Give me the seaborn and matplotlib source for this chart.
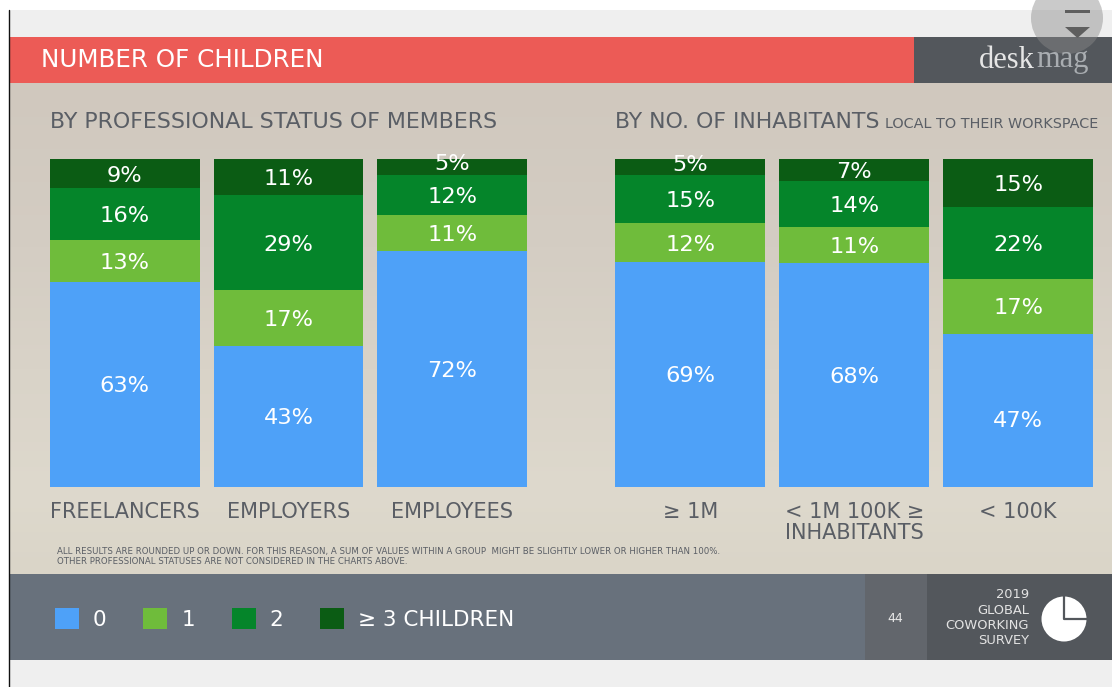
import numpy as np
import pandas as pd
import matplotlib.pyplot as plt
from matplotlib.patches import Rectangle, Circle, Polygon, Patch
import seaborn as sns

# values as printed on the slide
status_groups = ['FREELANCERS', 'EMPLOYERS', 'EMPLOYEES']
status_0 = [63, 43, 72]
status_1 = [13, 17, 11]
status_2 = [16, 29, 12]
status_3 = [9, 11, 5]

town_groups = ['≥ 1M', '< 1M 100K ≥\nINHABITANTS', '< 100K']
town_0 = [69, 68, 47]
town_1 = [12, 11, 17]
town_2 = [15, 14, 22]
town_3 = [5, 7, 15]

series_names = ['0', '1', '2', '≥ 3 CHILDREN']
series_colors = ['#4ea1f8', '#6fbc3b', '#05852a', '#0b5c14']

# label tweaks in pixels (up is positive), the slide doesn't center everything
status_nudge = {(2, 3): 5}
town_nudge = {(0, 3): 4, (2, 0): -9}

sns.set_theme(style='white')
plt.rcParams['font.family'] = ['DejaVu Sans']
TEXT = '#5a5e65'

W, H = 1112, 687
fig = plt.figure(figsize=(W / 100, H / 100), dpi=100, facecolor='white')


def panel_axes(left, right, top, bottom):
    return fig.add_axes([left / W, 1 - bottom / H, (right - left) / W, (bottom - top) / H])


# background in pixel coordinates
bg = fig.add_axes([0, 0, 1, 1], zorder=0)
bg.set_xlim(0, W)
bg.set_ylim(H, 0)
bg.axis('off')
bg.add_patch(Rectangle((10, 10), W, H, color='#efefef', lw=0))
grad = np.array([[208, 200, 190], [212, 205, 195], [222, 217, 205], [218, 213, 200]]) / 255
grad = np.array([np.interp(np.linspace(0, 3, 200), [0, 1, 2.5, 3], grad[:, i]) for i in range(3)]).T
bg.imshow(grad[:, None, :], extent=(10, W, 574, 83), aspect='auto', zorder=1)
bg.set_xlim(0, W)
bg.set_ylim(H, 0)
bg.add_patch(Rectangle((10, 37), 904, 46, color='#ec5b56', lw=0, zorder=2))
bg.add_patch(Rectangle((914, 37), W, 46, color='#53575c', lw=0, zorder=2))
bg.add_patch(Rectangle((10, 574), 855, 86, color='#68717c', lw=0, zorder=2))
bg.add_patch(Rectangle((865, 574), 62, 86, color='#62666c', lw=0, zorder=2))
bg.add_patch(Rectangle((927, 574), W, 86, color='#53575c', lw=0, zorder=2))
bg.plot([9, 9], [10, H], color='#111111', lw=1, zorder=3)


def stacked_panel(ax, groups, rows, nudge):
    df = pd.DataFrame(rows, index=series_names, columns=groups).T
    shares = df.div(df.sum(axis=1), axis=0)
    bottom = np.zeros(len(groups))
    for s, name in enumerate(series_names):
        sns.barplot(x=groups, y=shares[name].values, order=groups, ax=ax, color=series_colors[s],
                    saturation=1, width=0.915, bottom=bottom, linewidth=0)
        for g in range(len(groups)):
            ax.annotate(f'{df.iloc[g, s]}%', (g, bottom[g] + shares.iloc[g, s] / 2),
                        xytext=(0, (nudge.get((g, s), 0) - 2) * 0.72), textcoords='offset points',
                        ha='center', va='center', color='white', fontsize=16.2,
                        annotation_clip=False, zorder=5)
        bottom = bottom + shares[name].values
    ax.set_xlim(-0.5, 2.5)
    ax.set_ylim(0, 1)
    ax.patch.set_alpha(0)
    sns.despine(ax=ax, left=True, bottom=True, top=True, right=True)
    ax.set_yticks([])
    ax.tick_params(axis='x', length=0, pad=11.5, labelsize=15, labelcolor=TEXT)
    for t in ax.get_xticklabels():
        t.set_verticalalignment('top')
        t.set_linespacing(1.05)


ax1 = panel_axes(43, 534, 159, 486.5)
ax2 = panel_axes(608.5, 1100, 158.5, 486.5)
ax1.set_zorder(2)
ax2.set_zorder(2)
stacked_panel(ax1, status_groups, [status_0, status_1, status_2, status_3], status_nudge)
stacked_panel(ax2, town_groups, [town_0, town_1, town_2, town_3], town_nudge)

# overlay for slide texts and icons
top = fig.add_axes([0, 0, 1, 1], zorder=5)
top.set_xlim(0, W)
top.set_ylim(H, 0)
top.axis('off')


def label(x, y, s, **kw):
    kw.setdefault('va', 'center')
    return top.text(x, y, s, **kw)


label(41, 60, 'NUMBER OF CHILDREN', color='white', fontsize=17.7)
label(50, 122, 'BY PROFESSIONAL STATUS OF MEMBERS', color=TEXT, fontsize=15.9)
label(615, 122, 'BY NO. OF INHABITANTS', color=TEXT, fontsize=15.8)
label(885, 124.5, 'LOCAL TO THEIR WORKSPACE', color=TEXT, fontsize=10.4)
label(57, 551.5, 'ALL RESULTS ARE ROUNDED UP OR DOWN. FOR THIS REASON, A SUM OF VALUES WITHIN A GROUP  MIGHT BE SLIGHTLY LOWER OR HIGHER THAN 100%.',
      color=TEXT, fontsize=6.2)
label(57, 562, 'OTHER PROFESSIONAL STATUSES ARE NOT CONSIDERED IN THE CHARTS ABOVE.', color=TEXT, fontsize=6.2)

label(979, 60, 'desk', color='#e6e6e6', fontsize=22, family='Liberation Serif')
label(1036, 60, 'mag', color='#a9adb1', fontsize=22, family='Liberation Serif')

label(895, 618, '44', color='#e8e8e8', fontsize=9, ha='center')
for y, s in zip([595, 610, 625.5, 641], ['2019', 'GLOBAL', 'COWORKING', 'SURVEY']):
    label(1029, y, s, color='#e3e3e3', fontsize=9.4, ha='right')

# pie icon
top.add_patch(Circle((1064, 619), 22.5, color='white', lw=0))
top.plot([1064, 1064, 1087], [596, 619, 619], color='#53575c', lw=1.6, solid_capstyle='butt')

# scroll widget in the corner
top.add_patch(Circle((1067, 18), 36, color='#8a8a8a', alpha=0.45, lw=0, clip_on=True,
                     clip_path=Rectangle((10, 10), W, H, transform=top.transData)))
top.add_patch(Rectangle((1065, 10), 25, 3, color='#5e5e5e', lw=0))
top.add_patch(Polygon([(1065, 27), (1090, 27), (1077.5, 38)], color='#5e5e5e', lw=0))

# legend in the bottom band
handles = [Patch(facecolor=c, edgecolor='none') for c in series_colors]
leg = fig.legend(handles, series_names, loc='center left', bbox_to_anchor=(55 / W, 1 - 619 / H), ncol=4,
                 frameon=False, fontsize=15.5, labelcolor='white', handlelength=1.12, handleheight=1.12,
                 handletextpad=0.65, columnspacing=1.7, borderpad=0, borderaxespad=0)
leg.set_zorder(6)

fig.savefig('out.png', dpi=100, facecolor='white')
